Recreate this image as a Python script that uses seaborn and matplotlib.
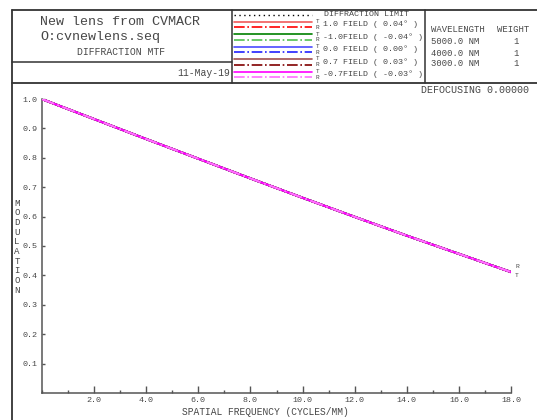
import seaborn as sns
import matplotlib.pyplot as plt
import pandas as pd
import numpy as np
from matplotlib.ticker import MultipleLocator

# --- data ---
freq = [0.0, 2.0, 4.0, 6.0, 8.0, 10.0, 12.0, 14.0, 16.0, 18.0]
mtf_diff = [1.000, 0.932, 0.864, 0.797, 0.730, 0.665, 0.600, 0.536, 0.474, 0.413]
mtf_field = [1.000, 0.932, 0.864, 0.797, 0.730, 0.664, 0.599, 0.535, 0.473, 0.411]

field_labels = ["1.0 FIELD ( 0.04\u00b0 )", "-1.0FIELD ( -0.04\u00b0 )",
                "0.0 FIELD ( 0.00\u00b0 )", "0.7 FIELD ( 0.03\u00b0 )",
                "-0.7FIELD ( -0.03\u00b0 )"]
tan_colors = ["#f05a5a", "#008000", "#4a4aff", "#a05050", "#ff00ff"]
rad_colors = ["#ff0000", "#50c050", "#2020ff", "#800000", "#ff70ff"]
wavelengths = ["5000.0 NM", "4000.0 NM", "3000.0 NM"]
weights = ["1", "1", "1"]
xtick_vals = [2, 4, 6, 8, 10, 12, 14, 16, 18]
ytick_vals = [0.1, 0.2, 0.3, 0.4, 0.5, 0.6, 0.7, 0.8, 0.9, 1.0]

sns.set_theme(style="white")
plt.rcParams['font.family'] = ['Liberation Mono', 'DejaVu Sans']

TXT = '#474747'
AX = '#555555'
W, H = 537, 420

fig = plt.figure(figsize=(5.37, 4.2), dpi=100)

# --- main MTF axes ---
ax = fig.add_axes([41.7 / W, 1 - 393 / H, (511.3 - 41.7) / W, (393 - 99) / H])
df = pd.DataFrame({'freq': freq, 'diff': mtf_diff, 'field': mtf_field})
sns.lineplot(data=df, x='freq', y='diff', ax=ax, color='black', lw=1.0,
             linestyle=(0, (1, 2)), zorder=2)
for tc, rc in zip(tan_colors, rad_colors):
    sns.lineplot(data=df, x='freq', y='field', ax=ax, color=tc, lw=1.5, zorder=3)
    sns.lineplot(data=df, x='freq', y='field', ax=ax, color=rc, lw=1.5,
                 linestyle='-.', zorder=3)
ax.set_xlim(0, 18)
ax.set_ylim(0, 1.0)
ax.set_xlabel('')
ax.set_ylabel('')
ax.patch.set_visible(False)
for s in ['top', 'right']:
    ax.spines[s].set_visible(False)
for s in ['left', 'bottom']:
    ax.spines[s].set_color(AX)
    ax.spines[s].set_linewidth(1.1)
ax.set_xticks(xtick_vals)
ax.set_xticklabels([f"{v:.1f}" for v in xtick_vals])
ax.xaxis.set_minor_locator(MultipleLocator(1))
ax.set_yticks(ytick_vals)
ax.set_yticklabels([f"{v:.1f}" for v in ytick_vals])
ax.tick_params(axis='x', which='major', direction='in', length=5, width=1.0,
               color=AX, labelsize=6, labelcolor=TXT, pad=3, bottom=True)
ax.tick_params(axis='x', which='minor', direction='in', length=2.5, width=1.0,
               color=AX, bottom=True)
ax.tick_params(axis='y', which='major', direction='in', length=2.2, width=1.0,
               color=AX, labelsize=6, labelcolor=TXT, pad=3, left=True)
ax.grid(False)

# R / T markers at the end of the curves
ax.text(18.15, mtf_field[-1] + 0.018, "R", fontsize=4.5, color=TXT, ha='left', va='center')
ax.text(18.15, mtf_field[-1] - 0.012, "T", fontsize=4.5, color=TXT, ha='left', va='center')

# --- overlay in pixel coordinates for the frame and header ---
hdr = fig.add_axes([0, 0, 1, 1], zorder=-1)
hdr.set_xlim(0, W)
hdr.set_ylim(H, 0)
hdr.axis('off')
FR = '#333333'
hdr.plot([12, W], [10, 10], color=FR, lw=1.3)
hdr.plot([12, 12], [10, H], color=FR, lw=1.3)
hdr.plot([12, W], [83, 83], color=FR, lw=1.3)
hdr.plot([12, 232], [62, 62], color=FR, lw=1.1)
hdr.plot([232, 232], [10, 83], color=FR, lw=1.1)
hdr.plot([425, 425], [10, 83], color=FR, lw=1.1)

hdr.text(40, 22, "New lens from CVMACR", fontsize=9.6, color=TXT, va='center')
hdr.text(40, 37, "O:cvnewlens.seq", fontsize=9.6, color=TXT, va='center')
hdr.text(77, 52, "DIFFRACTION MTF", fontsize=7, color=TXT, va='center')
hdr.text(230, 73, "11-May-19", fontsize=7, color=TXT, va='center', ha='right')

# legend keys
hdr.plot([234, 312], [15, 15], color='black', lw=1.0, linestyle=(0, (1, 2.5)))
hdr.text(324, 15, "DIFFRACTION LIMIT", fontsize=6.0, color=TXT, va='center')
row_y = [21.7, 34, 46.5, 59, 71.7]
for y, tc, rc, lab in zip(row_y, tan_colors, rad_colors, field_labels):
    hdr.plot([234, 312], [y, y], color=tc, lw=1.2)
    hdr.plot([234, 312], [y + 5.5, y + 5.5], color=rc, lw=1.2, linestyle='-.')
    hdr.text(316, y, "T", fontsize=4.3, color=TXT, va='center')
    hdr.text(316, y + 5.5, "R", fontsize=4.3, color=TXT, va='center')
    hdr.text(323, y + 2.8, lab, fontsize=6.0, color=TXT, va='center')

hdr.text(431, 29, "WAVELENGTH", fontsize=6.4, color=TXT, va='center')
hdr.text(497, 29, "WEIGHT", fontsize=6.4, color=TXT, va='center')
for i, (wl, wt) in enumerate(zip(wavelengths, weights)):
    hdr.text(431, 42 + i * 11, wl, fontsize=6.4, color=TXT, va='center')
    hdr.text(516, 42 + i * 11, wt, fontsize=6.4, color=TXT, va='center', ha='center')

hdr.text(529, 90, "DEFOCUSING 0.00000", fontsize=7.2, color=TXT, va='center', ha='right')

# stacked y label and x label
for i, ch in enumerate("MODULATION"):
    hdr.text(17, 203 + i * 9.7, ch, fontsize=6.6, color=TXT, va='center', ha='center')
hdr.text(265, 412, "SPATIAL FREQUENCY (CYCLES/MM)", fontsize=6.9, color=TXT,
         va='center', ha='center')

fig.savefig('out.png', dpi=100)
plt.close(fig)
